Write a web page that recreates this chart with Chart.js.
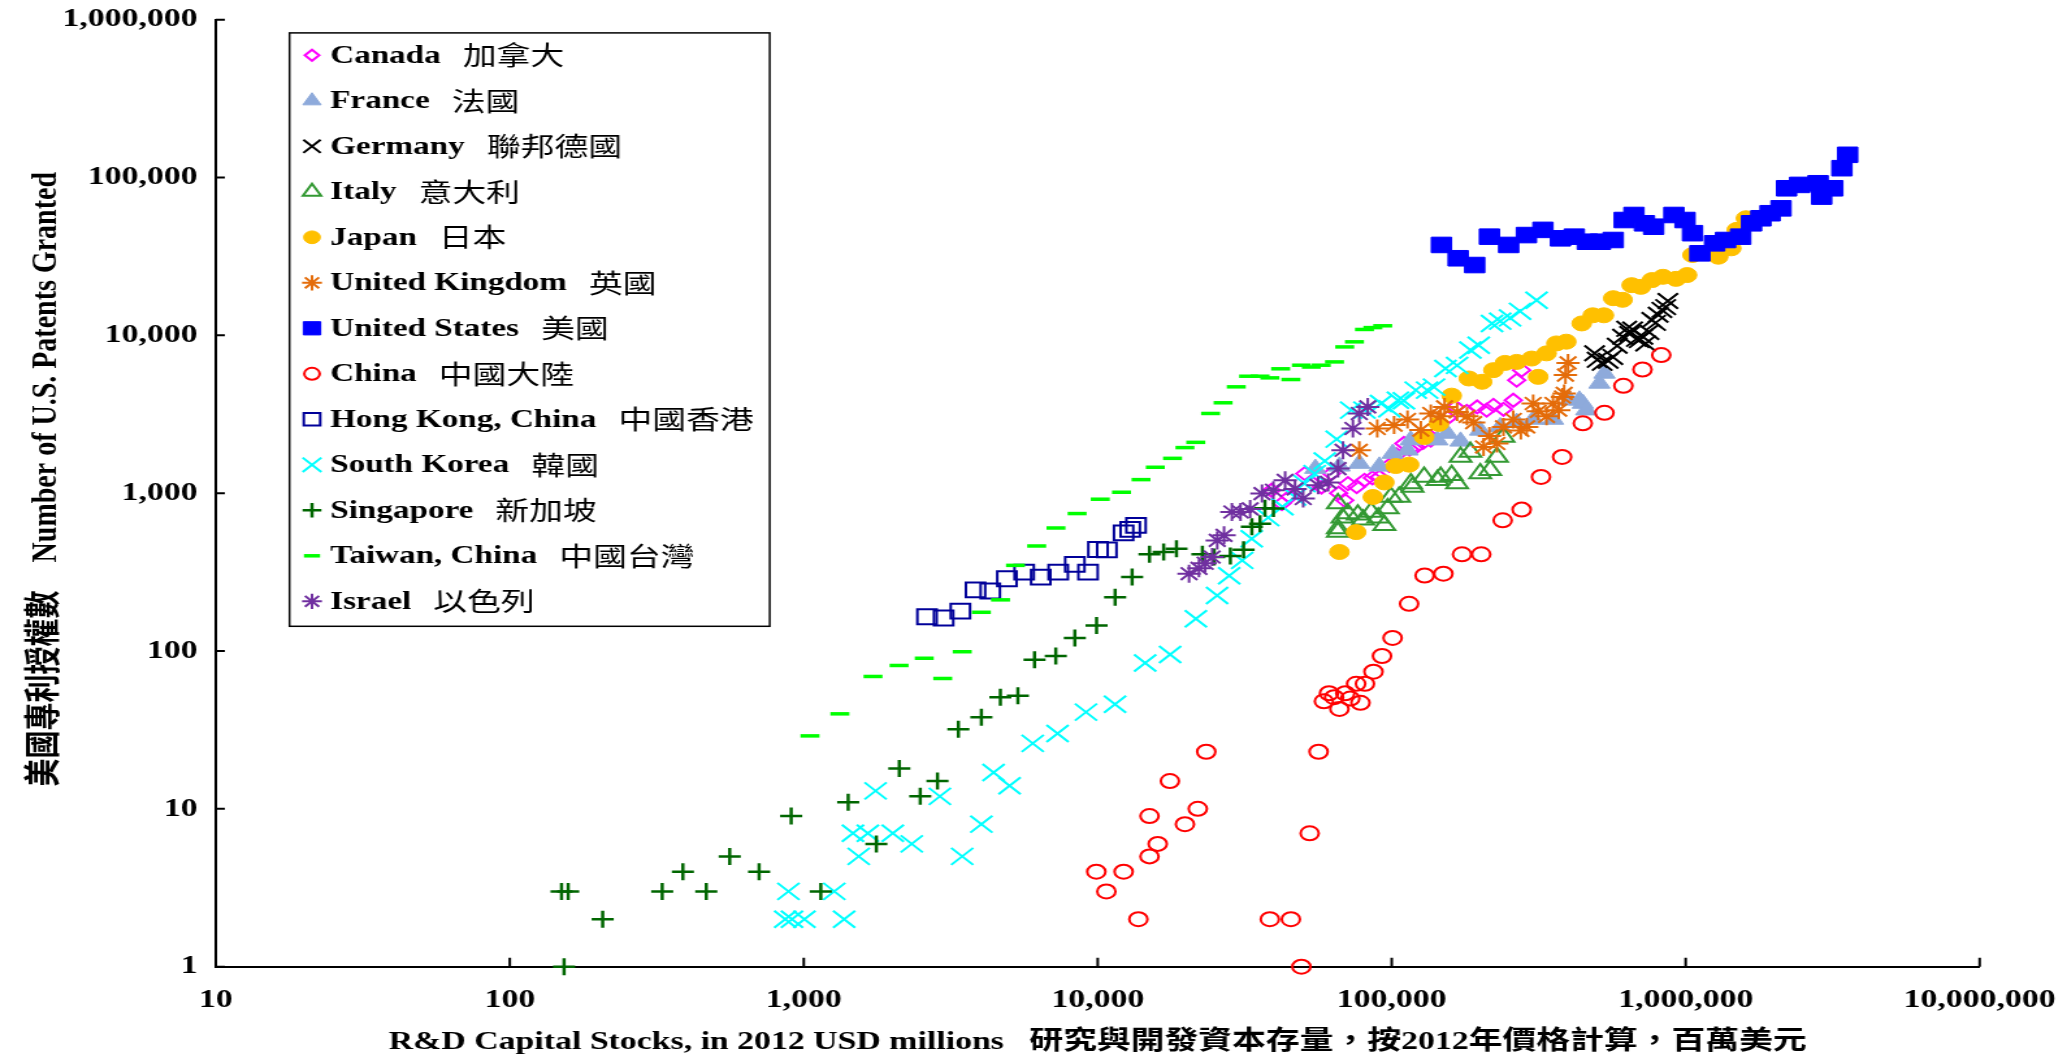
<!DOCTYPE html>
<html>
<head>
<meta charset="utf-8">
<script src="https://cdn.jsdelivr.net/npm/chart.js@4.4.1/dist/chart.umd.min.js"></script>
<style>
  html, body { margin: 0; padding: 0; background: #fff; overflow: hidden; }
  /* the reference is stretched sideways, so the chart is drawn narrow and widened */
  #wrap { position: absolute; left: 0; top: 0; width: 1587px; height: 1062px; transform: scaleX(1.3); transform-origin: 0 0; }
</style>
</head>
<body>
<div id="wrap"><canvas id="chart"></canvas></div>
<script>
const seriesNames = ["Canada", "France", "Germany", "Italy", "Japan", "United Kingdom", "United States",
  "China", "Hong Kong, China", "South Korea", "Singapore", "Taiwan, China", "Israel"];
const seriesNamesZh = ["加拿大", "法國", "聯邦德國", "意大利", "日本", "英國", "美國",
  "中國大陸", "中國香港", "韓國", "新加坡", "中國台灣", "以色列"];

const xTickValues = [10, 100, 1000, 10000, 100000, 1000000, 10000000];
const xTickLabels = ["10", "100", "1,000", "10,000", "100,000", "1,000,000", "10,000,000"];
const yTickValues = [1, 10, 100, 1000, 10000, 100000, 1000000];
const yTickLabels = ["1", "10", "100", "1,000", "10,000", "100,000", "1,000,000"];

// [R&D capital stock, patents granted]
const canada = [[39000,1044],[42300,859],[45000,950],[50600,1331],[54000,1150],[57700,1094],[62400,1331],
  [66000,1000],[69200,901],[71000,1150],[76000,1100],[80800,1207],[86000,1250],[90800,1268],[98000,1500],
  [104000,1750],[110000,2065],[115000,1900],[120700,1963],[128000,2100],[135800,2168],[145000,2500],
  [155000,3000],[164600,3520],[180000,3300],[195200,3520],[210400,3360],[221800,3600],[240000,3400],
  [259200,3880],[266200,5200],[276700,6020]];
const france = [[55000,1432],[66400,1480],[77600,1541],[90800,1480],[100800,1783],[113200,1870],[116000,2168],
  [128900,2220],[143000,2168],[154500,2390],[171500,2130],[200000,2500],[234000,2630],[266200,2800],
  [302900,2930],[353800,2930],[403000,3880],[435000,3880],[446800,3700],[459000,3360],[509000,4960],[529400,5740]];
const germany = [[490000,7700],[500000,7000],[520000,6700],[545000,6900],[565000,7300],[585000,8600],
  [610000,9800],[630000,11000],[645000,10200],[660000,10900],[680000,9500],[695000,9330],[715000,9800],
  [731000,8890],[750000,10500],[767000,12500],[790000,12000],[806000,13500],[830000,14500],[855000,15100],[870000,16500]];
const italy = [[65600,567],[65600,597],[65600,859],[68000,700],[70900,743],[76700,730],[80000,680],[85100,760],
  [90000,700],[94400,626],[96900,800],[99400,946],[106000,946],[116200,1150],[117700,1094],[128900,1268],
  [143000,1207],[146700,1268],[160000,1300],[166900,1150],[171500,1698],[185200,1825],[200100,1331],
  [216300,1400],[228000,1698],[240000,2270]];
const japan = [[66400,424],[75700,567],[86300,946],[94400,1170],[103200,1486],[114600,1517],[128900,2270],
  [144700,2750],[160000,4150],[183000,5330],[203000,5080],[221800,6020],[243000,6690],[266200,6790],
  [299300,7130],[315000,5460],[336300,7690],[363300,8890],[392600,9120],[443000,11900],[483000,13400],
  [527000,13400],[567000,17200],[610000,16800],[655000,20800],[704000,20300],[768000,22400],[837000,23500],
  [927000,22800],[1011000,24100],[1055000,32300],[1291000,31500],[1429000,35600],[1493000,46600],[1604000,55200]];
const unitedKingdom = [[77600,1870],[89300,2570],[101900,2700],[113200,2930],[125600,2510],[135800,3200],
  [146700,3070],[151300,3520],[166900,3270],[180300,3070],[190000,2800],[205300,1963],[215000,2300],
  [228000,2065],[240000,2630],[259200,2930],[275000,2500],[288000,2630],[302900,3700],[315000,3300],
  [336300,3070],[353800,3700],[370000,3360],[381000,4070],[386000,4290],[390000,5600],[398000,6690]];
const unitedStates = [[147600,37400],[168300,30800],[191600,27900],[215000,42200],[250000,37400],
  [287300,43200],[327000,46600],[375000,41200],[418000,42200],[463000,39200],[513000,39200],[567000,40200],
  [618000,53800],[667000,57900],[724000,51300],[778000,48800],[912000,57900],[995000,53800],[1055000,44400],
  [1118000,33100],[1254000,38300],[1367000,40200],[1538000,42200],[1676000,51300],[1803000,55200],
  [1937000,59400],[2110000,63800],[2204000,85500],[2442000,89800],[2820000,92000],[2902000,75700],
  [3165000,85500],[3400000,114600],[3556000,139300]];
const china = [[9890,4],[10700,3],[12250,4],[13750,2],[15000,5],[16000,6],[15000,9],[17600,15],[19800,8],
  [21900,10],[23400,23],[38500,2],[45400,2],[49300,1],[52600,7],[56400,23],[58800,48],[61200,54],[63700,51],
  [66400,43],[69500,54],[72300,50],[75700,62],[78300,47],[81100,62],[86700,74],[92700,93],[100700,121],
  [114600,199],[129400,301],[149900,309],[173400,410],[201600,410],[238500,673],[276800,787],[322000,1268],
  [380000,1698],[446800,2770],[529400,3230],[614000,4790],[713000,6080],[826000,7500]];
const hongKong = [[2626,165],[2990,162],[3410,179],[3840,244],[4310,240],[4910,287],[5620,316],[6400,294],
  [7340,316],[8360,354],[9270,316],[10020,440],[10740,437],[12250,560],[12900,590],[13500,626]];
const southKorea = [[865,2],[887,3],[912,2],[1005,2],[1270,3],[1372,2],[1470,7],[1538,5],[1652,7],[1755,13],
  [2009,7],[2330,6],[2904,12],[3459,5],[4020,8],[4423,17],[5014,14],[6010,26],[7300,30],[9120,41],[11450,46],
  [14500,84],[17630,95],[21570,160],[25470,225],[28000,300],[31000,375],[33400,515],[38000,700],[42500,820],
  [46900,946],[50500,1150],[54700,1331],[59200,1600],[65000,2200],[72800,3360],[80800,3360],[92000,3700],
  [98200,3430],[105000,3880],[110000,3850],[120700,4500],[132000,4500],[139300,4700],[152400,6170],
  [166900,6450],[185200,8070],[197700,8650],[219400,11900],[234000,12300],[252700,12900],[273300,14200],[311000,16700]];
const singapore = [[150,3],[158,3],[153,1],[207,2],[330,3],[388,4],[466,3],[560,5],[705,4],[906,9],[1143,3],
  [1416,11],[1766,6],[2114,18],[2490,12],[2850,15],[3357,32],[4020,38],[4665,51],[5350,52],[6095,88],[7200,93],
  [8360,121],[9910,145],[11460,219],[13090,294],[15000,410],[16760,424],[18530,445],[22700,410],[24900,394],
  [28260,400],[31350,438],[33440,614],[35650,640],[37050,803],[39600,800]];
const taiwan = [[1050,29],[1327,40],[1720,69],[2110,81],[2570,90],[2970,67],[3460,99],[4020,176],[4670,211],
  [5250,349],[6200,463],[7210,602],[8510,743],[10200,916],[12050,1014],[14040,1219],[15700,1460],[17970,1663],
  [19800,1945],[21550,2100],[24200,3200],[26700,3740],[29600,4720],[32600,5510],[35650,5510],[38500,5380],
  [41900,6140],[45400,5250],[49300,6470],[53300,6300],[57600,6470],[63900,6790],[69200,8450],[74700,9100],
  [80800,10900],[86300,11200],[93200,11500]];
const israel = [[20450,309],[22100,334],[23200,360],[24500,394],[25500,502],[26900,541],[28600,760],[30600,760],
  [33000,795],[36200,994],[39600,1044],[43400,1207],[46900,1065],[50000,925],[56200,1122],[60800,1170],
  [65700,1432],[68300,1870],[73800,2570],[77600,3200],[82900,3520]];

const seriesValues = [canada, france, germany, italy, japan, unitedKingdom, unitedStates,
  china, hongKong, southKorea, singapore, taiwan, israel];

const NONE = "rgba(0,0,0,0)";
const seriesStyles = [
  { style: "rectRot", radius: 6.5, fill: NONE, stroke: "#ff00ff", width: 2 },
  { style: "triangle", radius: 9.5, fill: "#8eaadb", stroke: "#8eaadb", width: 1 },
  { style: "crossRot", radius: 11, fill: NONE, stroke: "#000000", width: 2 },
  { style: "triangle", radius: 9.5, fill: NONE, stroke: "#339933", width: 2 },
  { style: "circle", radius: 7.5, fill: "#ffc000", stroke: "#ffc000", width: 1 },
  { style: "star", radius: 9, fill: NONE, stroke: "#e46c0a", width: 2 },
  { style: "rect", radius: 11, fill: "#0000ff", stroke: "#0000ff", width: 1 },
  { style: "circle", radius: 7, fill: NONE, stroke: "#ff0000", width: 2 },
  { style: "rect", radius: 10.5, fill: NONE, stroke: "#000099", width: 2 },
  { style: "crossRot", radius: 12, fill: NONE, stroke: "#00ffff", width: 2 },
  { style: "cross", radius: 8.5, fill: NONE, stroke: "#006600", width: 2.5 },
  { style: "line", radius: 7.3, fill: NONE, stroke: "#00ff00", width: 3.5 },
  { style: "star", radius: 9, fill: NONE, stroke: "#7030a0", width: 2 },
];

const SERIF = '"Liberation Serif", "Times New Roman", "Noto Sans CJK TC", serif';
const CJK = '"Noto Sans CJK TC", "Noto Sans CJK SC", sans-serif';

// short tick marks pointing into the plot
const tickMarks = {
  id: "tickMarks",
  afterDraw(chart) {
    const { ctx, chartArea } = chart;
    const xs = chart.scales.x;
    const ys = chart.scales.y;
    ctx.save();
    ctx.strokeStyle = "#000";
    ctx.lineWidth = 2;
    ctx.beginPath();
    xTickValues.forEach((v) => {
      const px = xs.getPixelForValue(v);
      ctx.moveTo(px, chartArea.bottom);
      ctx.lineTo(px, chartArea.bottom - 9);
    });
    yTickValues.forEach((v) => {
      const py = ys.getPixelForValue(v);
      ctx.moveTo(chartArea.left, py);
      ctx.lineTo(chartArea.left + 7, py);
    });
    ctx.stroke();
    ctx.restore();
  },
};

// boxed legend sitting in the upper left of the plot
const boxLegend = {
  id: "boxLegend",
  afterDraw(chart) {
    const { ctx } = chart;
    const left = 222.7, top = 32.9, width = 369.4, height = 593.4;
    const rowTop = 55.3, rowStep = 45.5, markerX = 240, textX = 254;
    ctx.save();
    ctx.fillStyle = "#fff";
    ctx.fillRect(left, top, width, height);
    ctx.strokeStyle = "#000";
    ctx.lineWidth = 1.5;
    ctx.strokeRect(left, top, width, height);
    seriesNames.forEach((name, i) => {
      const y = rowTop + i * rowStep;
      const s = seriesStyles[i];
      ctx.fillStyle = s.fill;
      ctx.strokeStyle = s.stroke;
      ctx.lineWidth = s.width;
      Chart.helpers.drawPoint(ctx, { pointStyle: s.style, radius: s.radius * 0.85, rotation: 0, borderWidth: s.width }, markerX, y);
      ctx.fillStyle = "#000";
      ctx.textBaseline = "middle";
      ctx.textAlign = "left";
      ctx.font = "bold 25.5px " + SERIF;
      ctx.fillText(name, textX, y + 1);
      const w = ctx.measureText(name).width;
      ctx.font = "26px " + CJK;
      ctx.fillText(seriesNamesZh[i], textX + w + 17, y);
    });
    ctx.restore();
  },
};

const datasets = seriesValues.map((values, i) => ({
  label: seriesNames[i],
  data: values.map(([x, y]) => ({ x, y })),
  pointStyle: seriesStyles[i].style,
  pointRadius: seriesStyles[i].radius,
  pointBackgroundColor: seriesStyles[i].fill,
  pointBorderColor: seriesStyles[i].stroke,
  pointBorderWidth: seriesStyles[i].width,
  order: seriesValues.length - i,
  clip: false,
}));

new Chart(document.getElementById("chart"), {
  type: "scatter",
  data: { datasets },
  options: {
    responsive: true,
    maintainAspectRatio: false,
    animation: false,
    events: [],
    layout: { padding: { left: 0, right: 64.2, top: 19.7, bottom: 0 } },
    plugins: { legend: { display: false }, tooltip: { enabled: false } },
    scales: {
      x: {
        type: "logarithmic",
        min: 10,
        max: 10000000,
        afterFit: (scale) => {
          scale.height = 95.3;
          scale.paddingLeft = 0;
          scale.paddingRight = 0;
        },
        afterBuildTicks: (scale) => { scale.ticks = xTickValues.map((value) => ({ value })); },
        grid: { display: false, drawTicks: false },
        border: { display: true, color: "#000", width: 2 },
        ticks: {
          autoSkip: false,
          maxRotation: 0,
          padding: 18,
          color: "#000",
          font: { family: SERIF, size: 26, weight: "bold" },
          callback: (value, index) => xTickLabels[index],
        },
        title: {
          display: true,
          text: "R&D Capital Stocks, in 2012 USD millions   研究與開發資本存量，按2012年價格計算，百萬美元",
          color: "#000",
          font: { family: SERIF, size: 26, weight: "bold" },
          padding: { top: 0, bottom: 4.4 },
        },
      },
      y: {
        type: "logarithmic",
        min: 1,
        max: 1000000,
        afterFit: (scale) => {
          scale.width = 166;
          scale.paddingTop = 0;
          scale.paddingBottom = 0;
        },
        afterBuildTicks: (scale) => { scale.ticks = yTickValues.map((value) => ({ value })); },
        grid: { display: false, drawTicks: false },
        border: { display: true, color: "#000", width: 2 },
        ticks: {
          autoSkip: false,
          padding: 14,
          color: "#000",
          font: { family: SERIF, size: 26, weight: "bold" },
          callback: (value, index) => yTickLabels[index],
        },
        title: {
          display: true,
          text: "    美國專利授權數    Number of U.S. Patents Granted",
          color: "#000",
          font: { family: SERIF, size: 28, weight: "bold" },
          padding: { top: 18.5, bottom: 0 },
        },
      },
    },
  },
  plugins: [tickMarks, boxLegend],
});
</script>
</body>
</html>
